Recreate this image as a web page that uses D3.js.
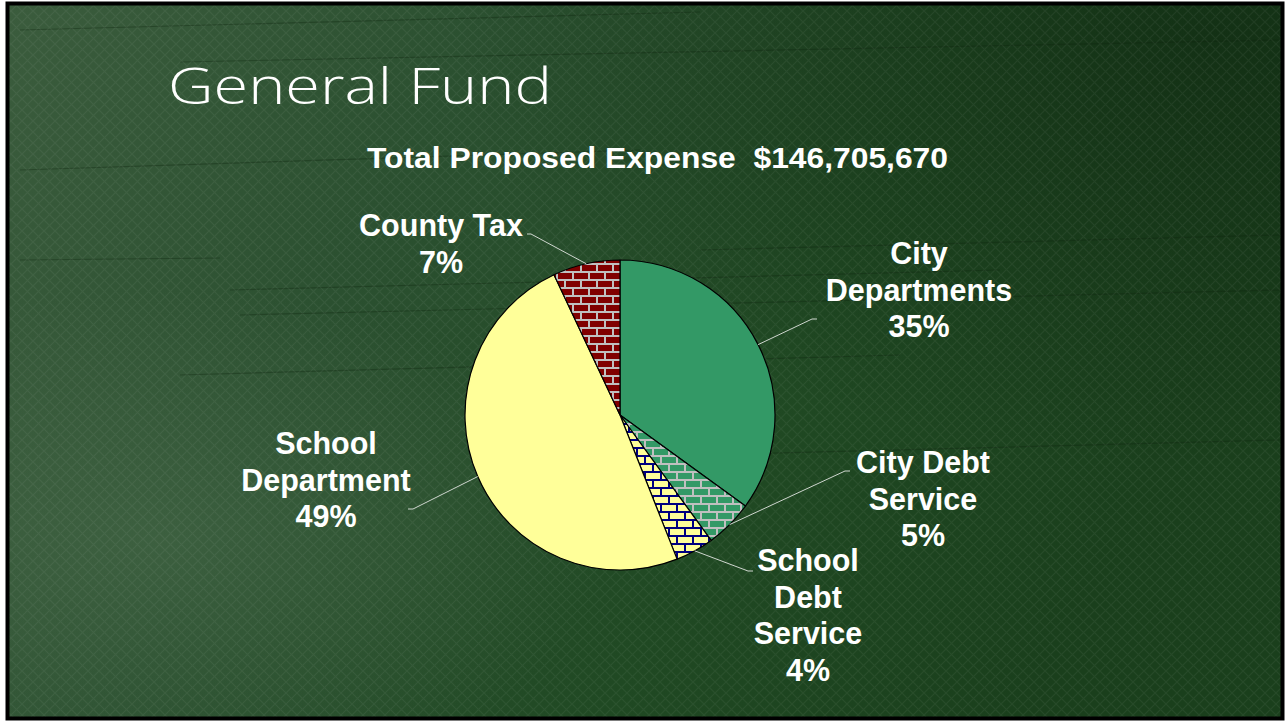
<!DOCTYPE html>
<html>
<head>
<meta charset="utf-8">
<script src="https://cdn.jsdelivr.net/npm/d3@7/dist/d3.min.js"></script>
<style>
  body { margin: 0; background: #fff; }
  svg { display: block; }
</style>
</head>
<body>
<div id="chart"></div>
<script>
// data
var categories = ["City Departments", "City Debt Service", "School Debt Service", "School Department", "County Tax"];
var shares = [35, 5, 4, 49, 7];
var labelWords = [["City", "Departments"], ["City Debt", "Service"], ["School", "Debt", "Service"], ["School", "Department"], ["County Tax"]];
var totalLabel = "Total Proposed Expense  $146,705,670";
var titleText = "General Fund";

var W = 1286, H = 723,
    CX = 620, CY = 415, R = 155,
    LINE_H = 36.5,
    LABEL_FONT = 30.5;

// where each label sits (centre x, first baseline) and its leader knee
var labelLayout = [
  { x: 919, y: 264, knee: [812, 319], end: [817, 319] },
  { x: 923, y: 473, knee: [845, 471], end: [850, 471] },
  { x: 808, y: 571, knee: [748, 571], end: [753, 571] },
  { x: 326, y: 454, knee: [413, 509], end: [408, 509] },
  { x: 441, y: 236, knee: [531, 234], end: [527, 234] }
];

var brickFill = ["#339966", "#339966", "#ffff99", "#ffff99", "#800000"],
    mortar = [null, "#c0c0c0", "#000080", null, "#c0c0c0"];

var svg = d3.select("#chart").append("svg")
  .attr("width", W)
  .attr("height", H);

var defs = svg.append("defs");

// background shading
var bg = defs.append("linearGradient").attr("id", "bgGrad")
  .attr("x1", "0").attr("y1", "0").attr("x2", "1").attr("y2", "0.3");
bg.append("stop").attr("offset", "0").attr("stop-color", "#3b5c3d");
bg.append("stop").attr("offset", "0.35").attr("stop-color", "#2b5030");
bg.append("stop").attr("offset", "0.7").attr("stop-color", "#204923");
bg.append("stop").attr("offset", "1").attr("stop-color", "#1a3f1c");

var shade = defs.append("radialGradient").attr("id", "shade")
  .attr("cx", "0.95").attr("cy", "0.05").attr("r", "0.6");
shade.append("stop").attr("offset", "0").attr("stop-color", "#0c220d").attr("stop-opacity", 0.55);
shade.append("stop").attr("offset", "1").attr("stop-color", "#0c220d").attr("stop-opacity", 0);

var glow = defs.append("radialGradient").attr("id", "glow")
  .attr("cx", "0.12").attr("cy", "0.75").attr("r", "0.35");
glow.append("stop").attr("offset", "0").attr("stop-color", "#5a7a5a").attr("stop-opacity", 0.35);
glow.append("stop").attr("offset", "1").attr("stop-color", "#5a7a5a").attr("stop-opacity", 0);

var hatch = defs.append("pattern").attr("id", "hatch")
  .attr("patternUnits", "userSpaceOnUse")
  .attr("width", 11).attr("height", 11);
hatch.append("path")
  .attr("d", "M0,11 L11,0 M-2,2 L2,-2 M9,13 L13,9 M0,0 L11,11")
  .attr("stroke", "#ffffff")
  .attr("stroke-opacity", 0.05)
  .attr("stroke-width", 1.2);

// brick fills for the patterned slices
brickFill.forEach(function(c, i) {
  if (!mortar[i]) return;
  var p = defs.append("pattern").attr("id", "brick" + i)
    .attr("patternUnits", "userSpaceOnUse")
    .attr("width", 16).attr("height", 16);
  p.append("rect").attr("width", 16).attr("height", 16).attr("fill", c);
  p.append("path")
    .attr("d", "M0,1 H16 M0,9 H16 M1,0 V9 M9,8 V16")
    .attr("stroke", mortar[i])
    .attr("stroke-width", 2)
    .attr("fill", "none");
});

svg.append("rect").attr("x", 7).attr("y", 3).attr("width", 1276).attr("height", 716).attr("fill", "url(#bgGrad)");
svg.append("rect").attr("x", 7).attr("y", 3).attr("width", 1276).attr("height", 716).attr("fill", "url(#glow)");
svg.append("rect").attr("x", 7).attr("y", 3).attr("width", 1276).attr("height", 716).attr("fill", "url(#shade)");

// faint ruled lines of the spreadsheet photo behind the slide
var rules = [[20, 30, 700, 12], [180, 62, 1280, 40], [20, 170, 640, 150], [180, 375, 900, 355], [700, 250, 1280, 235],
             [20, 260, 220, 258], [230, 290, 1000, 270], [240, 315, 1280, 290], [700, 455, 1280, 440]];
svg.append("g").selectAll("line").data(rules).enter().append("line")
  .attr("x1", function(d) { return d[0]; }).attr("y1", function(d) { return d[1]; })
  .attr("x2", function(d) { return d[2]; }).attr("y2", function(d) { return d[3]; })
  .attr("stroke", "#0f260f").attr("stroke-opacity", 0.35).attr("stroke-width", 1.2);

svg.append("rect").attr("x", 7).attr("y", 3).attr("width", 1276).attr("height", 716).attr("fill", "url(#hatch)");

// frame
svg.append("rect").attr("x", 7.5).attr("y", 3.5).attr("width", 1275).attr("height", 715)
  .attr("fill", "none").attr("stroke", "#000").attr("stroke-width", 4);

// titles
svg.append("text")
  .attr("x", 168).attr("y", 104)
  .attr("fill", "#fff")
  .attr("font-size", 50)
  .attr("font-weight", 300)
  .attr("textLength", 384)
  .attr("lengthAdjust", "spacingAndGlyphs")
  .style("font-family", "'Open Sans', 'Noto Sans', sans-serif")
  .text(titleText);

svg.append("text")
  .attr("x", 367).attr("y", 168)
  .attr("fill", "#fff")
  .attr("font-size", 29)
  .attr("font-weight", "bold")
  .attr("textLength", 581)
  .attr("lengthAdjust", "spacingAndGlyphs")
  .style("white-space", "pre")
  .style("font-family", "'Liberation Sans', Arial, sans-serif")
  .text(totalLabel);

// pie
var pie = d3.pie().sort(null).value(function(d) { return d; });
var arcs = pie(shares);
var arc = d3.arc().innerRadius(0).outerRadius(R);
var edge = d3.arc().innerRadius(R).outerRadius(R);

var g = svg.append("g").attr("transform", "translate(" + CX + "," + CY + ")");

g.selectAll("path.slice")
  .data(arcs)
  .enter().append("path")
  .attr("class", "slice")
  .attr("d", arc)
  .attr("fill", function(d, i) { return mortar[i] ? "url(#brick" + i + ")" : brickFill[i]; })
  .attr("stroke", "#000")
  .attr("stroke-width", 1.2)
  .attr("stroke-linejoin", "round");

// leader lines
svg.selectAll("polyline.leader")
  .data(arcs)
  .enter().append("polyline")
  .attr("class", "leader")
  .attr("points", function(d, i) {
    var c = edge.centroid(d), L = labelLayout[i];
    return [[CX + c[0], CY + c[1]], L.knee, L.end].join(" ");
  })
  .attr("fill", "none")
  .attr("stroke", "#cfd6cf")
  .attr("stroke-width", 1);

// labels
var labels = svg.selectAll("text.label")
  .data(arcs)
  .enter().append("text")
  .attr("class", "label")
  .attr("text-anchor", "middle")
  .attr("fill", "#fff")
  .attr("font-size", LABEL_FONT)
  .attr("font-weight", "bold")
  .style("font-family", "'Liberation Sans', Arial, sans-serif");

labels.each(function(d, i) {
  var t = d3.select(this), L = labelLayout[i];
  var lines = labelWords[i].concat([shares[i] + "%"]);
  lines.forEach(function(s, k) {
    t.append("tspan")
      .attr("x", L.x)
      .attr("y", L.y + k * LINE_H)
      .text(s);
  });
});
</script>
</body>
</html>
